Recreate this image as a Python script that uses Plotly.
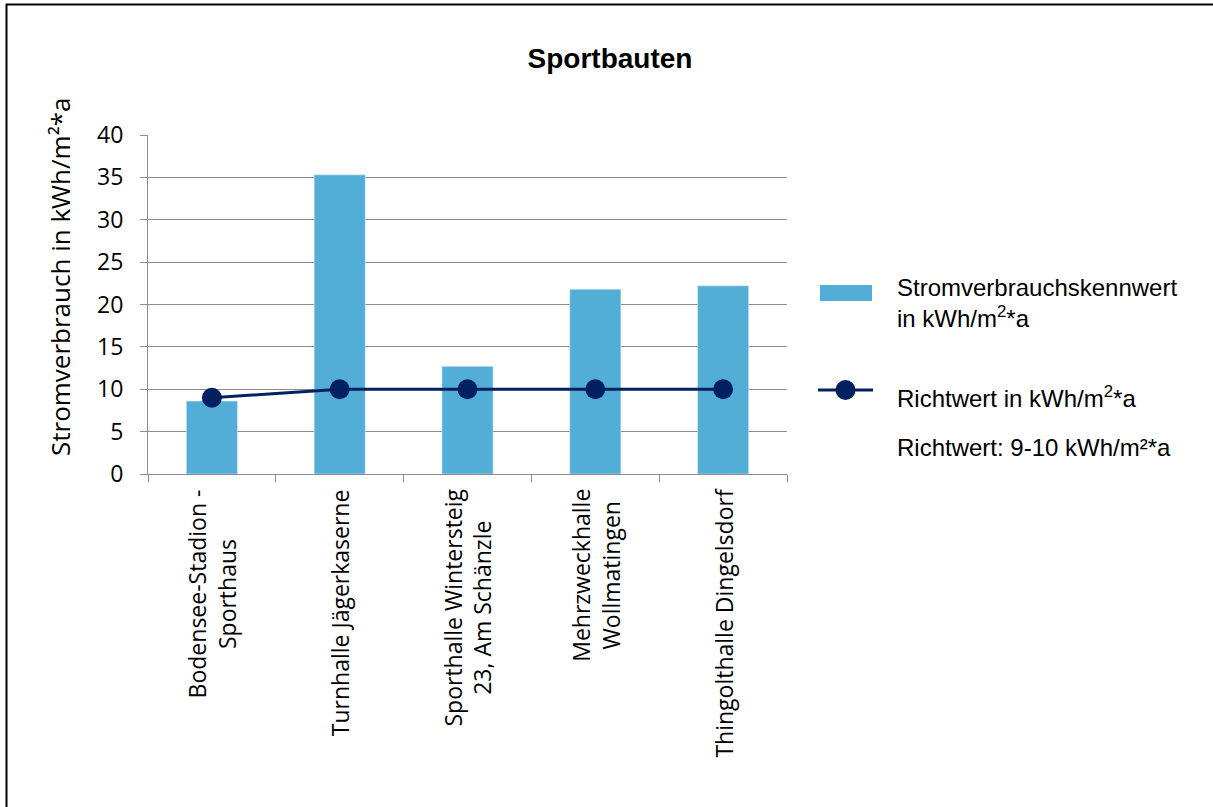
import plotly.graph_objects as go

categories = [
    "Bodensee-Stadion -<br>Sporthaus",
    "Turnhalle Jägerkaserne",
    "Sporthalle Wintersteig<br>23, Am Schänzle",
    "Mehrzweckhalle<br>Wollmatingen",
    "Thingolthalle Dingelsdorf",
]
consumption = [8.6, 35.3, 12.7, 21.8, 22.2]
guide_value = [9, 10, 10, 10, 10]
y_ticks = [0, 5, 10, 15, 20, 25, 30, 35, 40]

BAR = "#52AED6"
NAVY = "#002060"
GRID = "#8C8C8C"

W, H = 1213, 807
L, R, T, B = 148, 787, 135, 474
pw, ph = R - L, B - T

def px(x):
    return (x - L) / pw

def py(y):
    return (B - y) / ph

fig = go.Figure()
fig.add_trace(go.Bar(x=categories, y=consumption, marker_color=BAR, width=0.4,
                     name="Stromverbrauchskennwert in kWh/m²*a", showlegend=False))
fig.add_trace(go.Scatter(x=categories, y=guide_value, mode="lines+markers",
                         line=dict(color=NAVY, width=3), marker=dict(size=20, color=NAVY),
                         name="Richtwert in kWh/m²*a", showlegend=False))

shapes = [
    dict(type="rect", xref="paper", yref="paper", x0=px(6.5), x1=px(1220), y0=py(815), y1=py(4.5),
         line=dict(color="black", width=2), fillcolor="rgba(0,0,0,0)", layer="below"),
    dict(type="rect", xref="paper", yref="paper", x0=px(820), x1=px(872), y0=py(301), y1=py(285),
         line=dict(width=0), fillcolor=BAR),
    dict(type="line", xref="paper", yref="paper", x0=px(818), x1=px(873), y0=py(390), y1=py(390),
         line=dict(color=NAVY, width=3)),
    dict(type="circle", xref="paper", yref="paper", x0=px(835.5), x1=px(855.5), y0=py(400), y1=py(380),
         line=dict(width=0), fillcolor=NAVY),
]

legfont = dict(family="Liberation Sans, Arial", size=24, color="black")
annotations = [
    dict(xref="paper", yref="paper", x=px(60), y=py(277), text="Stromverbrauch in kWh/m²*a",
         textangle=-90, showarrow=False, xanchor="center", yanchor="middle",
         font=dict(family="Open Sans", size=26, color="black")),
    dict(xref="paper", yref="paper", x=px(895), y=py(303),
         text="Stromverbrauchskennwert<br>in kWh/m<sup>2</sup>*a", showarrow=False,
         xanchor="left", yanchor="middle", align="left", font=legfont),
    dict(xref="paper", yref="paper", x=px(895), y=py(397),
         text="Richtwert in kWh/m<sup>2</sup>*a", showarrow=False,
         xanchor="left", yanchor="middle", align="left", font=legfont),
    dict(xref="paper", yref="paper", x=px(895), y=py(447),
         text="Richtwert: 9-10 kWh/m²*a", showarrow=False,
         xanchor="left", yanchor="middle", align="left", font=legfont),
]
for c in categories:
    annotations.append(dict(xref="x", yref="paper", x=c, y=py(487), text=c, textangle=-90,
                            showarrow=False, xanchor="center", yanchor="top", align="center",
                            font=dict(family="Open Sans", size=23, color="black")))

fig.update_layout(
    width=W, height=H,
    margin=dict(l=L, r=W - R, t=T, b=H - B, autoexpand=False),
    paper_bgcolor="white", plot_bgcolor="white",
    title=dict(text="<b>Sportbauten</b>", x=610 / W, y=1 - 58 / H, xanchor="center", yanchor="middle",
               font=dict(family="Liberation Sans, Arial", size=28, color="black")),
    showlegend=False,
    shapes=shapes,
    annotations=annotations,
    bargap=0.6,
)
fig.update_xaxes(showline=True, linecolor=GRID, linewidth=1, ticks="outside", tickson="boundaries",
                 ticklen=7, tickcolor=GRID, showticklabels=False, showgrid=False)
fig.update_yaxes(range=[0, 40], tickvals=y_ticks, showline=True, linecolor=GRID, linewidth=1,
                 ticks="outside", ticklen=7, tickcolor=GRID, showgrid=True, gridcolor=GRID, gridwidth=1,
                 zeroline=False, ticklabelstandoff=12,
                 tickfont=dict(family="Open Sans", size=23, color="black"))

fig.write_html("out.html")
